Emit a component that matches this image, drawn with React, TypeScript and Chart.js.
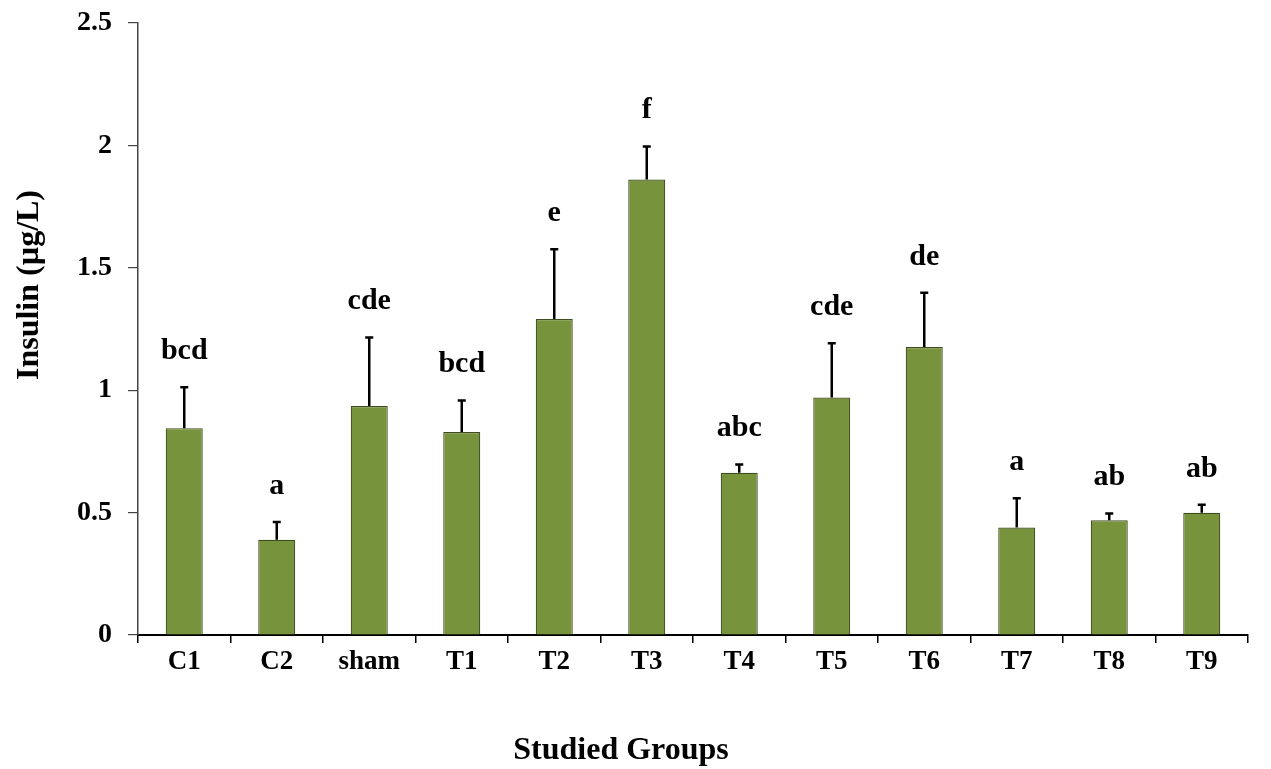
import React, { useEffect, useRef } from "react";
import { Chart, registerables } from "chart.js";

Chart.register(...registerables);

const categories = ["C1", "C2", "sham", "T1", "T2", "T3", "T4", "T5", "T6", "T7", "T8", "T9"];
const means = [0.845, 0.389, 0.935, 0.829, 1.291, 1.861, 0.663, 0.97, 1.176, 0.439, 0.469, 0.499];
const errors = [0.167, 0.073, 0.28, 0.129, 0.285, 0.134, 0.033, 0.222, 0.222, 0.12, 0.027, 0.033];
const letters = ["bcd", "a", "cde", "bcd", "e", "f", "abc", "cde", "de", "a", "ab", "ab"];
const yTicks = [0, 0.5, 1, 1.5, 2, 2.5];
const yTickLabels = ["0", "0.5", "1", "1.5", "2", "2.5"];
const xTitle = "Studied Groups";
const yTitle = "Insulin (\u00b5g/L)";

const FONT = "'Liberation Serif', 'Times New Roman', serif";

const errorBarsPlugin = {
  id: "errorBarsLetters",
  afterDatasetsDraw(chart: any) {
    const ctx = chart.ctx;
    const meta = chart.getDatasetMeta(0);
    const yScale = chart.scales.y;
    ctx.save();
    meta.data.forEach((bar: any, i: number) => {
      const x = bar.x;
      const yBase = bar.y;
      const yTop = yScale.getPixelForValue(means[i] + errors[i]);
      ctx.strokeStyle = "#000";
      ctx.lineWidth = 2.5;
      ctx.beginPath();
      ctx.moveTo(x, yBase);
      ctx.lineTo(x, yTop);
      ctx.moveTo(x - 4, yTop);
      ctx.lineTo(x + 4, yTop);
      ctx.stroke();
      ctx.fillStyle = "#000";
      ctx.font = `bold 30px ${FONT}`;
      ctx.textAlign = "center";
      ctx.textBaseline = "middle";
      ctx.fillText(letters[i], x, yTop - 36);
    });
    ctx.restore();
  },
};

const titlesPlugin = {
  id: "axisTitles",
  afterDraw(chart: any) {
    const ctx = chart.ctx;
    ctx.save();
    ctx.fillStyle = "#000";
    ctx.textAlign = "center";
    ctx.textBaseline = "middle";
    ctx.font = `bold 32px ${FONT}`;
    ctx.fillText(xTitle, 621, 751);
    ctx.translate(30, 285);
    ctx.rotate(-Math.PI / 2);
    ctx.fillText(yTitle, 0, 0);
    ctx.restore();
  },
};

const bgPlugin = {
  id: "whiteBg",
  beforeDraw(chart: any) {
    const ctx = chart.ctx;
    ctx.save();
    ctx.fillStyle = "#fff";
    ctx.fillRect(0, 0, chart.width, chart.height);
    ctx.restore();
  },
};

export default function App() {
  const ref = useRef<HTMLCanvasElement>(null);
  useEffect(() => {
    if (!ref.current) return;
    const chart = new Chart(ref.current, {
      type: "bar",
      data: {
        labels: categories,
        datasets: [
          {
            data: means,
            backgroundColor: "#77933C",
            borderColor: "#3d4d1f",
            borderWidth: 1.2,
            categoryPercentage: 1,
            barPercentage: 0.4,
          },
        ],
      },
      options: {
        animation: false,
        responsive: true,
        maintainAspectRatio: false,
        layout: { padding: { top: 23, right: 23, left: 0, bottom: 0 } },
        plugins: { legend: { display: false }, tooltip: { enabled: false } },
        scales: {
          x: {
            grid: {
              display: true,
              drawOnChartArea: false,
              drawTicks: true,
              tickLength: 8,
              color: "#000",
              lineWidth: 1.5,
              offset: true,
            },
            border: { display: true, color: "#000", width: 2 },
            ticks: {
              color: "#000",
              padding: 3,
              font: { family: FONT, size: 27, weight: "bold", lineHeight: 1.2 },
              maxRotation: 0,
              autoSkip: false,
            },
            afterFit(scale: any) {
              scale.height = 134;
              scale.paddingLeft = 0;
              scale.paddingRight = 0;
            },
          },
          y: {
            min: 0,
            max: 2.5,
            afterBuildTicks(scale: any) {
              scale.ticks = yTicks.map((v) => ({ value: v }));
            },
            grid: {
              display: true,
              drawOnChartArea: false,
              drawTicks: true,
              tickLength: 10,
              color: "#444",
              lineWidth: 1.2,
            },
            border: { display: true, color: "#444", width: 1.5 },
            ticks: {
              color: "#000",
              padding: 16,
              font: { family: FONT, size: 28, weight: "bold" },
              callback: (_v: any, i: number) => yTickLabels[i],
            },
            afterFit(scale: any) {
              scale.width = 138;
              scale.paddingTop = 0;
              scale.paddingBottom = 0;
            },
          },
        },
      },
      plugins: [bgPlugin, errorBarsPlugin, titlesPlugin],
    });
    return () => chart.destroy();
  }, []);
  return (
    <div style={{ position: "fixed", left: 0, top: 0, width: 1271, height: 769, background: "#fff" }}>
      <canvas ref={ref} />
    </div>
  );
}
